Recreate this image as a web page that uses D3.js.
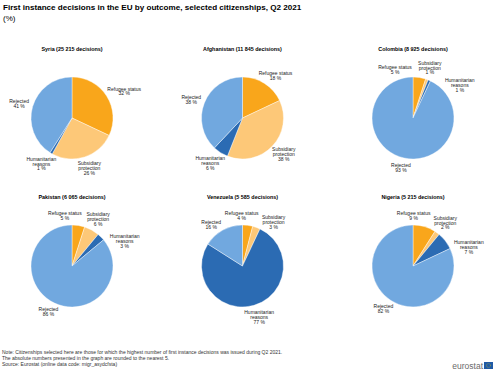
<!DOCTYPE html>
<html>
<head>
<meta charset="utf-8">
<script src="https://cdn.jsdelivr.net/npm/d3@7"></script>
<style>
  body { margin: 0; background: #fff; }
  svg { display: block; font-family: "Liberation Sans", Arial, sans-serif; }
</style>
</head>
<body>
<svg id="chart" width="500" height="376"></svg>
<script>
'use strict';

// outcome categories, in clockwise order from 12 o'clock
var outcomes = ['Refugee status', 'Subsidiary protection', 'Humanitarian reasons', 'Rejected'];
var outcomeLines = [['Refugee status'], ['Subsidiary', 'protection'], ['Humanitarian', 'reasons'], ['Rejected']];

var countries = ['Syria', 'Afghanistan', 'Colombia', 'Pakistan', 'Venezuela', 'Nigeria'];
var decisions = ['25 215', '11 845', '8 925', '6 065', '5 585', '5 215'];

// shares (%) per country, same order as outcomes
var syria = [32, 26, 1, 41];
var afghanistan = [18, 38, 6, 38];
var colombia = [5, 1, 1, 93];
var pakistan = [5, 6, 3, 86];
var venezuela = [4, 3, 77, 16];
var nigeria = [9, 2, 7, 82];
var shares = [syria, afghanistan, colombia, pakistan, venezuela, nigeria];

var colors = ['#f9a61b', '#fdc878', '#2b6bb3', '#71a8df'];

var svg = d3.select('#chart');
var color = d3.scaleOrdinal().domain(outcomes).range(colors);

svg.append('text').attr('x', 3).attr('y', 10)
  .attr('font-size', 8.1).attr('font-weight', 'bold').attr('fill', '#000')
  .text('First instance decisions in the EU by outcome, selected citizenships, Q2 2021');
svg.append('text').attr('x', 3).attr('y', 21)
  .attr('font-size', 8).attr('fill', '#000').text('(%)');

var colX = d3.scalePoint().domain([0, 1, 2]).range([72, 413]);
var rowY = d3.scalePoint().domain([0, 1]).range([118, 266]);
var r = 41;

var pie = d3.pie().sort(null).value(function (d) { return d.v; });
var arc = d3.arc().innerRadius(0).outerRadius(r);

countries.forEach(function (name, i) {
  var cx = colX(i % 3), cy = rowY(Math.floor(i / 3));
  var g = svg.append('g').attr('transform', 'translate(' + cx + ',' + cy + ')');

  g.append('text').attr('x', 0).attr('y', -r - 26)
    .attr('text-anchor', 'middle').attr('font-size', 5.4).attr('font-weight', 'bold')
    .attr('fill', '#000')
    .text(name + ' (' + decisions[i] + ' decisions)');

  var data = shares[i].map(function (v, k) { return { k: k, v: v }; });
  var arcs = pie(data);

  g.selectAll('path').data(arcs).enter().append('path')
    .attr('d', arc)
    .attr('fill', function (d) { return color(outcomes[d.data.k]); })
    .attr('stroke', '#fff').attr('stroke-width', 0.4);

  // spread label angles so small neighbouring slices don't collide
  var ang = arcs.map(function (d) { return (d.startAngle + d.endAngle) / 2; });
  var minSep = 34 * Math.PI / 180, n = ang.length;
  for (var it = 0; it < 80; it++) {
    for (var a = 0; a < n; a++) {
      var b = (a + 1) % n;
      var diff = ang[b] - ang[a] + (b === 0 ? 2 * Math.PI : 0);
      if (diff < minSep) {
        var s = (minSep - diff) / 2;
        ang[a] -= s; ang[b] += s;
      }
    }
  }

  arcs.forEach(function (d, k) {
    var lines = outcomeLines[d.data.k].concat([d.data.v + ' %']);
    var t = g.append('text').attr('text-anchor', 'middle')
      .attr('font-size', 5).attr('fill', '#222');
    lines.forEach(function (l, j) {
      t.append('tspan').attr('x', 0).attr('y', j * 4.9).text(l);
    });
    var bb = t.node().getBBox();
    var th = ang[k], rr = r + 4;
    var px = Math.sin(th) * rr + Math.sin(th) * bb.width / 2;
    var py = -Math.cos(th) * rr - Math.cos(th) * bb.height / 2;
    var bcx = bb.x + bb.width / 2, bcy = bb.y + bb.height / 2;
    t.attr('transform', 'translate(' + (px - bcx) + ',' + (py - bcy) + ')');
  });
});

var notes = [
  'Note: Citizenships selected here are those for which the highest number of first instance decisions was issued during Q2 2021.',
  'The absolute numbers presented in the graph are rounded to the nearest 5.',
  'Source: Eurostat (online data code: migr_asydcfsta)'
];
svg.selectAll('text.note').data(notes).enter().append('text')
  .attr('class', 'note').attr('x', 2)
  .attr('y', function (d, i) { return 354 + i * 6.2; })
  .attr('font-size', 5).attr('fill', '#333')
  .text(function (d) { return d; });

// eurostat logo
svg.append('text').attr('x', 483).attr('y', 369).attr('text-anchor', 'end')
  .attr('font-size', 8.5).attr('fill', '#6a6a6a').text('eurostat');
svg.append('rect').attr('x', 484).attr('y', 362).attr('width', 9).attr('height', 7)
  .attr('fill', '#1f5aa6');
svg.append('circle').attr('cx', 488.5).attr('cy', 365.5).attr('r', 2)
  .attr('fill', 'none').attr('stroke', '#f5d000').attr('stroke-width', 0.6)
  .attr('stroke-dasharray', '0.5 0.6');
</script>
</body>
</html>
